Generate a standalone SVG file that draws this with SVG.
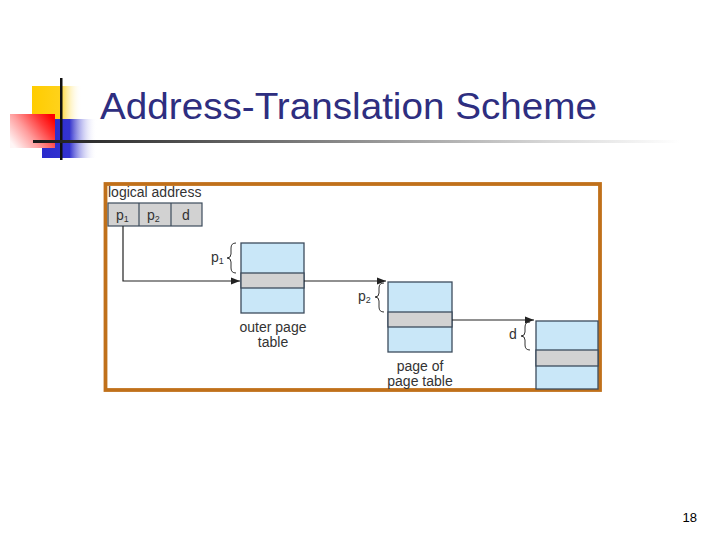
<svg xmlns="http://www.w3.org/2000/svg" width="720" height="540" viewBox="0 0 720 540">
<defs>
<linearGradient id="gy" x1="0" y1="0" x2="1" y2="0"><stop offset="0" stop-color="#FFCC00"/><stop offset="0.55" stop-color="#FFD21A"/><stop offset="1" stop-color="#FFFFFF" stop-opacity="0"/></linearGradient>
<linearGradient id="gb" x1="0" y1="0" x2="1" y2="0"><stop offset="0" stop-color="#2A2ACC"/><stop offset="0.5" stop-color="#3333D0"/><stop offset="1" stop-color="#FFFFFF" stop-opacity="0"/></linearGradient>
<linearGradient id="gr" x1="1" y1="0.2" x2="0" y2="0.8"><stop offset="0" stop-color="#FF0000"/><stop offset="0.25" stop-color="#FF3A3A"/><stop offset="0.6" stop-color="#FF9C9C"/><stop offset="1" stop-color="#FFF6F6"/></linearGradient>
<linearGradient id="gl" gradientUnits="userSpaceOnUse" x1="33" y1="0" x2="680" y2="0"><stop offset="0" stop-color="#1A1A1A"/><stop offset="0.4" stop-color="#777777"/><stop offset="0.8" stop-color="#D8D8D8"/><stop offset="1" stop-color="#FFFFFF"/></linearGradient>
<marker id="ah" viewBox="0 0 10 10" refX="10" refY="5" markerWidth="9" markerHeight="9" markerUnits="userSpaceOnUse" orient="auto"><path d="M0,1 L10,5 L0,9 Z" fill="#222"/></marker>
</defs>
<style>
.lbl{font-family:"Liberation Sans",Arial,sans-serif;font-size:14px;fill:#333}
.tbl{fill:#C9E7F8;stroke:#3C4C5C;stroke-width:1.3}
.row{fill:#D2D2D2;stroke:#3C4C5C;stroke-width:1.3}
.brace{fill:none;stroke:#333;stroke-width:1}
.con{fill:none;stroke:#222;stroke-width:1.2}
</style>
<rect width="720" height="540" fill="#FFFFFF"/>
<g id="logo">
<rect x="32" y="86" width="50" height="48" fill="url(#gy)"/>
<rect x="42" y="119" width="55" height="39" fill="url(#gb)"/>
<rect x="10" y="114" width="45" height="34" fill="url(#gr)"/>
<rect x="60" y="78" width="2.5" height="82" fill="#111"/>
</g>
<rect x="33" y="140" width="650" height="3" fill="url(#gl)"/>
<text id="title" x="100" y="119" font-family="Tahoma,'Liberation Sans',Arial,sans-serif" font-size="37" fill="#2E2E80" textLength="497" lengthAdjust="spacingAndGlyphs">Address-Translation Scheme</text>
<g id="frame"><rect x="105.5" y="184" width="494.5" height="206" fill="#FFFFFF" stroke="#C0701A" stroke-width="3.8"/></g>
<g id="logical-address">
<text class="lbl" x="108" y="197">logical address</text>
<rect x="108" y="203" width="94" height="23" fill="#D2D2D2" stroke="#3C4C5C" stroke-width="1.2"/>
<line x1="139" y1="203" x2="139" y2="226" stroke="#3C4C5C" stroke-width="1.2"/>
<line x1="171" y1="203" x2="171" y2="226" stroke="#3C4C5C" stroke-width="1.2"/>
<text class="lbl" x="116" y="220">p<tspan font-size="9" dy="2">1</tspan></text>
<text class="lbl" x="147" y="220">p<tspan font-size="9" dy="2">2</tspan></text>
<text class="lbl" x="182" y="220">d</text>
</g>
<g id="outer-page-table">
<rect class="tbl" x="241" y="243" width="63" height="70"/>
<rect class="row" x="241" y="273" width="63" height="15"/>
<text class="lbl" x="273" y="332" text-anchor="middle">outer page</text>
<text class="lbl" x="273" y="347" text-anchor="middle">table</text>
<path class="brace" d="M236,243 Q231,243 231,248 L231,254 Q231,258 227,258 Q231,258 231,262 L231,268 Q231,273 236,273"/>
<text class="lbl" x="211" y="262">p<tspan font-size="9" dy="2">1</tspan></text>
</g>
<g id="page-of-page-table">
<rect class="tbl" x="388" y="282" width="64" height="70"/>
<rect class="row" x="388" y="312" width="64" height="15"/>
<text class="lbl" x="420" y="371" text-anchor="middle">page of</text>
<text class="lbl" x="420" y="386" text-anchor="middle">page table</text>
<path class="brace" d="M384,283 Q379,283 379,288 L379,293 Q379,297 375,297 Q379,297 379,301 L379,307 Q379,312 384,312"/>
<text class="lbl" x="358" y="301">p<tspan font-size="9" dy="2">2</tspan></text>
</g>
<g id="page">
<rect class="tbl" x="536" y="321" width="62" height="68"/>
<rect class="row" x="536" y="350" width="62" height="16"/>
<path class="brace" d="M530,322 Q525,322 525,327 L525,332 Q525,336 521,336 Q525,336 525,340 L525,345 Q525,350 530,350"/>
<text class="lbl" x="509" y="339">d</text>
</g>
<g id="connectors">
<path class="con" d="M123,226 L123,281 L240,281" marker-end="url(#ah)"/>
<path class="con" d="M304,281 L386,281" marker-end="url(#ah)"/>
<path class="con" d="M452,320 L534,320" marker-end="url(#ah)"/>
</g>
<text x="697" y="522" font-family="'Liberation Sans',Arial,sans-serif" font-size="13" fill="#000" text-anchor="end">18</text>
</svg>
